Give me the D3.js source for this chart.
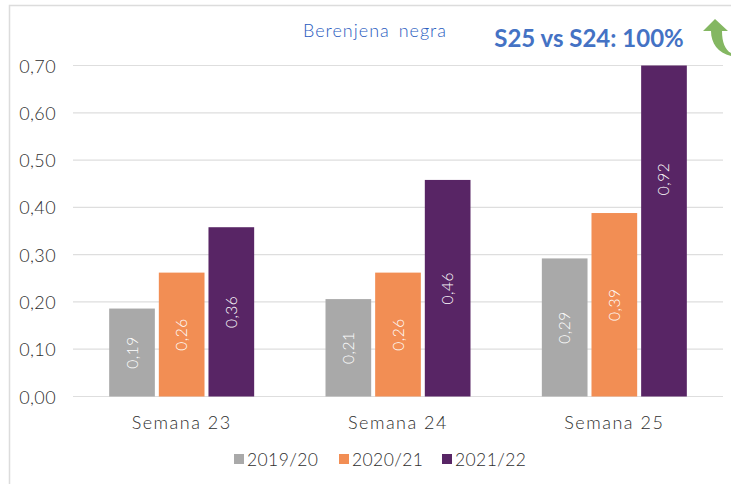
<!DOCTYPE html>
<html><head><meta charset="utf-8">
<script src="https://cdn.jsdelivr.net/npm/d3@7"></script>
<style>html,body{margin:0;padding:0;background:#fff}svg{display:block}text{font-family:Lato,"Open Sans",sans-serif}</style>
</head><body><svg id="c" width="731" height="484"></svg>
<script>
const categories=["Semana 23","Semana 24","Semana 25"];
const seriesNames=["2019/20","2020/21","2021/22"];
const s1920=[0.186,0.206,0.292];
const s2021=[0.262,0.262,0.388];
const s2122=[0.358,0.458,0.92];
const labels1920=["0,19","0,21","0,29"];
const labels2021=["0,26","0,26","0,39"];
const labels2122=["0,36","0,46","0,92"];
const yTicks=[0,0.1,0.2,0.3,0.4,0.5,0.6,0.7];
const colors=["#a9a9a9","#f28e54","#582565"];
const svg=d3.select("#c");
const x=d3.scaleBand().domain(categories).range([73.5,722.5]).paddingInner(0).paddingOuter(0);
const xs=d3.scaleBand().domain(seriesNames).range([-72.5,72.5]).paddingInner(0.08);
const y=d3.scaleLinear().domain([0,0.7]).range([396.5,65.5]);
svg.append("path").attr("d","M9.5,484V5.5H731").attr("fill","none").attr("stroke","#dcdcdc").attr("stroke-width",1.5);
svg.append("g").selectAll("line").data(yTicks).join("line")
 .attr("x1",73).attr("x2",723).attr("y1",d=>y(d)).attr("y2",d=>y(d))
 .attr("stroke","#dedede").attr("stroke-width",1.2);
svg.append("g").selectAll("text").data(yTicks).join("text")
 .attr("x",56).attr("y",d=>y(d)+7).attr("text-anchor","end")
 .attr("font-size",18).attr("fill","#2e2e2e").attr("letter-spacing",0.4).attr("font-weight",300)
 .text(d=>d3.format(".2f")(d).replace(".",","));
const series=[s1920,s2021,s2122], lab=[labels1920,labels2021,labels2122];
seriesNames.forEach((n,i)=>{
 const g=svg.append("g");
 const rows=categories.map((c,j)=>({c,v:series[i][j],l:lab[i][j]}));
 g.selectAll("rect").data(rows).join("rect")
  .attr("x",d=>x(d.c)+x.bandwidth()/2+xs(n)).attr("width",xs.bandwidth())
  .attr("y",d=>y(Math.min(d.v,0.7))).attr("height",d=>y(0)-y(Math.min(d.v,0.7)))
  .attr("fill",colors[i]);
 g.selectAll("text").data(rows).join("text")
  .attr("transform",d=>{const cx=x(d.c)+x.bandwidth()/2+xs(n)+xs.bandwidth()/2;const cy=(y(0)+y(d.v))/2;return `translate(${cx+5.5},${cy}) rotate(-90)`})
  .attr("text-anchor","middle").attr("font-size",15.5).attr("font-weight",300).attr("fill","#fff").attr("letter-spacing",0.5).text(d=>d.l);
});
svg.append("g").selectAll("text").data(categories).join("text")
 .attr("x",d=>x(d)+x.bandwidth()/2).attr("y",428.5).attr("text-anchor","middle")
 .attr("font-size",18).attr("font-weight",300).attr("fill","#2e2e2e").attr("letter-spacing",1.5).text(d=>d);
const lx=[234,339,442];
seriesNames.forEach((n,i)=>{
 svg.append("rect").attr("x",lx[i]).attr("y",454).attr("width",10).attr("height",10).attr("fill",colors[i]);
 svg.append("text").attr("x",lx[i]+13).attr("y",466).attr("font-size",17.5).attr("font-weight",300).attr("fill","#2e2e2e").attr("letter-spacing",0.4).text(n);
});
svg.append("text").attr("x",375).attr("y",37).attr("text-anchor","middle").attr("font-size",18).attr("font-weight",300).attr("fill","#2a5cc0").attr("letter-spacing",1).attr("word-spacing",3).text("Berenjena negra");
svg.append("text").attr("x",589).attr("y",47).attr("text-anchor","middle").attr("font-size",24).attr("font-weight",700).attr("fill","#4472c4").text("S25 vs S24: 100%");
svg.append("path").attr("d","M715,19 L703,31 L711,31 C711,43 718,53 731,56 L731,53 C725,50 722,42 722,31 L728,31 Z").attr("fill","#84b762");
</script></body></html>
